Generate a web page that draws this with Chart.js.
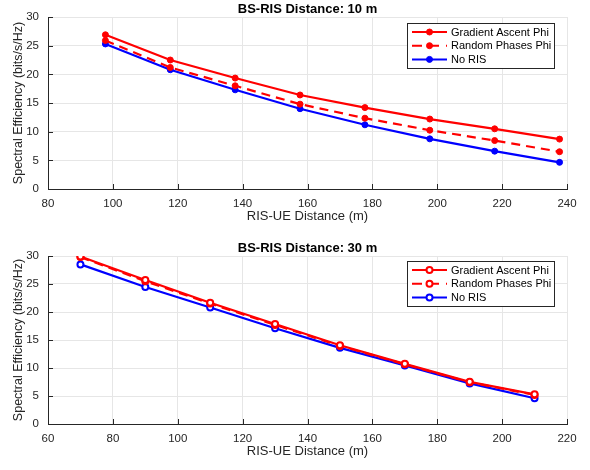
<!DOCTYPE html>
<html><head><meta charset="utf-8">
<script src="https://cdn.jsdelivr.net/npm/chart.js@4/dist/chart.umd.min.js"></script>
<style>
html,body{margin:0;padding:0;background:#fff;}
.box{position:absolute;left:0;width:590px;height:235px;}
</style></head>
<body>
<div class="box" style="top:0"><canvas id="c1"></canvas></div>
<div class="box" style="top:235px"><canvas id="c2"></canvas></div>
<script>
// Top chart (BS-RIS 10 m)
const x10 = [97.7, 117.7, 137.7, 157.7, 177.7, 197.7, 217.7, 237.7];
const grad10 = [26.9, 22.5, 19.35, 16.4, 14.2, 12.2, 10.5, 8.7];
const rand10 = [25.9, 21.2, 18.0, 14.8, 12.35, 10.25, 8.45, 6.5];
const noris10 = [25.3, 20.8, 17.3, 14.0, 11.2, 8.75, 6.6, 4.65];
// Bottom chart (BS-RIS 30 m)
const x30 = [70, 90, 110, 130, 150, 170, 190, 210];
const grad30 = [29.9, 25.7, 21.65, 17.85, 14.06, 10.74, 7.53, 5.3];
const rand30 = [29.8, 25.5, 21.5, 17.7, 13.95, 10.65, 7.45, 5.2];
const noris30 = [28.5, 24.45, 20.8, 17.1, 13.6, 10.45, 7.25, 4.6];
const seriesLabels = ['Gradient Ascent Phi', 'Random Phases Phi', 'No RIS'];
const titles = ['BS-RIS Distance: 10 m', 'BS-RIS Distance: 30 m'];
const xTitle = 'RIS-UE Distance (m)';
const yTitle = 'Spectral Efficiency (bits/s/Hz)';

const FONT = 'Liberation Sans, Arial, Helvetica, sans-serif';
const AX = '#262626';

function pts(xs, ys){ return xs.map((x,i)=>({x:x, y:ys[i]})); }

const decor = {
  id:'decor',
  afterDraw(chart, args, opts){
    const ctx = chart.ctx, ca = chart.chartArea;
    const xs = chart.scales.x, ys = chart.scales.y;
    ctx.save();
    // inward ticks
    ctx.strokeStyle = AX; ctx.lineWidth = 1;
    ctx.beginPath();
    xs.ticks.forEach(t=>{ const px = Math.round(xs.getPixelForValue(t.value))+0.5; ctx.moveTo(px, ca.bottom); ctx.lineTo(px, ca.bottom-5); });
    ys.ticks.forEach(t=>{ const py = Math.round(ys.getPixelForValue(t.value))+0.5; ctx.moveTo(ca.left, py); ctx.lineTo(ca.left+5, py); });
    ctx.stroke();
    // title
    ctx.fillStyle = '#000';
    ctx.font = 'bold 13px ' + FONT;
    ctx.textAlign = 'center'; ctx.textBaseline = 'alphabetic';
    ctx.fillText(opts.title, (ca.left+ca.right)/2, ca.top - 4);
    // legend
    const bw = 147, bh = 45;
    const bx = ca.right - 13 - bw, by = ca.top + opts.legTop;
    ctx.fillStyle = '#fff';
    ctx.fillRect(bx, by, bw, bh);
    ctx.strokeStyle = '#262626'; ctx.lineWidth = 1;
    ctx.strokeRect(Math.round(bx)+0.5, Math.round(by)+0.5, bw, bh);
    ctx.font = '11px ' + FONT;
    ctx.textAlign = 'left'; ctx.textBaseline = 'middle';
    chart.data.datasets.forEach((ds, i)=>{
      const ry = by + 9 + i*13.7;
      const lx0 = bx + 5, lx1 = bx + 40, mx = (lx0+lx1)/2;
      ctx.strokeStyle = ds.borderColor; ctx.lineWidth = 2;
      ctx.setLineDash(ds.borderDash && ds.borderDash.length ? [10,7] : []);
      ctx.beginPath(); ctx.moveTo(lx0, ry); ctx.lineTo(lx1, ry); ctx.stroke();
      ctx.setLineDash([]);
      ctx.beginPath(); ctx.arc(mx, ry, ds.pointRadius, 0, Math.PI*2);
      if (ds.pointBackgroundColor !== '#fff') { ctx.fillStyle = ds.pointBackgroundColor; ctx.fill(); ctx.lineWidth = 1; ctx.strokeStyle = ds.pointBorderColor; ctx.stroke(); }
      else { ctx.fillStyle = '#fff'; ctx.fill(); ctx.lineWidth = ds.pointBorderWidth; ctx.strokeStyle = ds.pointBorderColor; ctx.stroke(); }
      ctx.fillStyle = '#000';
      ctx.fillText(ds.label, bx + 44, ry + 0.5);
    });
    ctx.restore();
  }
};

function makeChart(id, xs, g, r, n, xmin, xmax, filled, title, padTop, legTop){
  const mk = (label, ys, color, dash) => ({
    label: label, data: pts(xs, ys), borderColor: color, borderWidth: 2.2,
    borderDash: dash, pointRadius: 3,
    pointBackgroundColor: filled ? color : '#fff',
    pointBorderColor: color, pointBorderWidth: filled ? 1 : 2,
    pointHoverRadius: 3, fill: false, tension: 0
  });
  return new Chart(document.getElementById(id), {
    type: 'line',
    data: { datasets: [
      mk(seriesLabels[0], g, '#ff0000', []),
      mk(seriesLabels[1], r, '#ff0000', [9,6]),
      mk(seriesLabels[2], n, '#0000ff', [])
    ]},
    options: {
      responsive: true, maintainAspectRatio: false, animation: false,
      devicePixelRatio: 1,
      layout: { padding: { top: padTop, right: 23, left: 0, bottom: 0 } },
      plugins: { legend: { display: false }, title: { display: false }, tooltip: { enabled: false }, decor: { title: title, legTop: legTop } },
      scales: {
        x: {
          type: 'linear', min: xmin, max: xmax,
          ticks: { stepSize: 20, color: AX, font: { family: FONT, size: 11.5 }, padding: 8, maxRotation: 0 },
          grid: { color: '#e6e6e6', drawTicks: false, lineWidth: 1 },
          border: { color: AX, width: 1 },
          title: { display: true, text: xTitle, color: AX, font: { family: FONT, size: 13 }, padding: { top: 0, bottom: 11 } },
          afterFit: s => { s.height = 46; }
        },
        y: {
          min: 0, max: 30,
          ticks: { stepSize: 5, color: AX, font: { family: FONT, size: 11.5 }, padding: 9 },
          grid: { color: '#e6e6e6', drawTicks: false, lineWidth: 1 },
          border: { color: AX, width: 1 },
          title: { display: true, text: yTitle, color: AX, font: { family: FONT, size: 12.5 }, padding: { top: 11, bottom: 0 } },
          afterFit: s => { s.width = 48; }
        }
      }
    },
    plugins: [decor]
  });
}
makeChart('c1', x10, grad10, rand10, noris10, 80, 240, true, titles[0], 17, 6);
makeChart('c2', x30, grad30, rand30, noris30, 60, 220, false, titles[1], 21, 5);
</script>
</body></html>
